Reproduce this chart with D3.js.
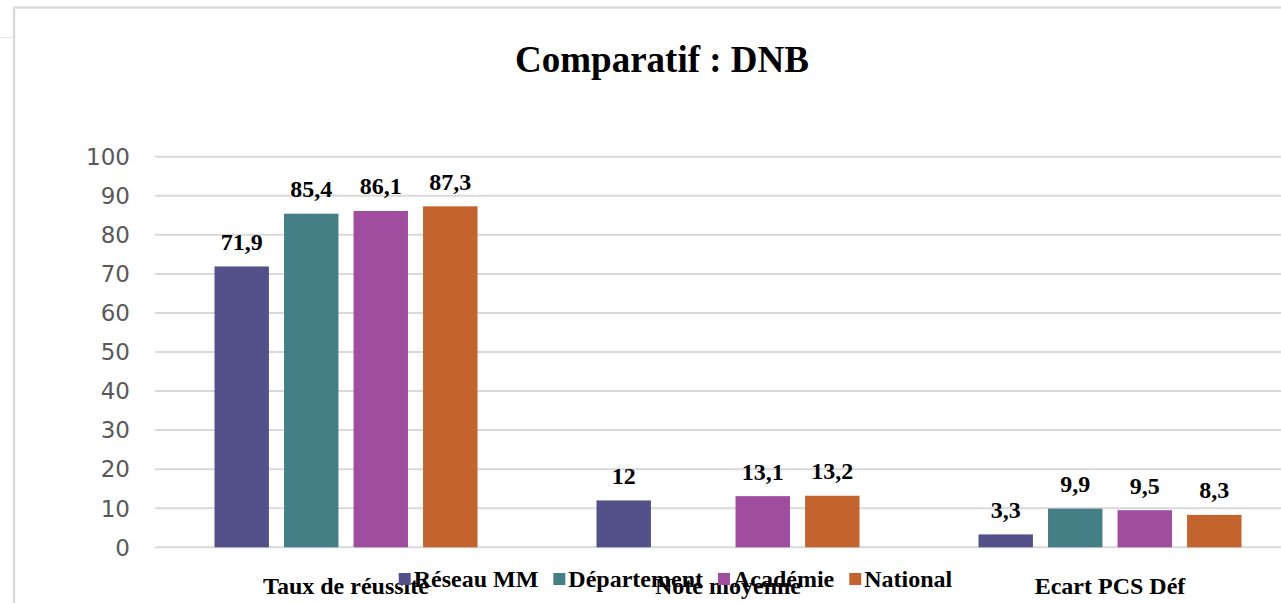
<!DOCTYPE html>
<html>
<head>
<meta charset="utf-8">
<script src="https://cdn.jsdelivr.net/npm/d3@7"></script>
<style>
  body { margin: 0; background: #fff; }
  svg { display: block; }
</style>
</head>
<body>
<div id="chart"></div>
<script>
// data
var categories = ["Taux de réussite", "Note moyenne", "Ecart PCS Déf"];
var seriesNames = ["Réseau MM", "Département", "Académie", "National"];
var reseau = [71.9, 12, 3.3];
var departement = [85.4, null, 9.9];
var academie = [86.1, 13.1, 9.5];
var national = [87.3, 13.2, 8.3];
var yTicks = [0, 10, 20, 30, 40, 50, 60, 70, 80, 90, 100];

var colors = ["#54518a", "#437f85", "#a04da0", "#c3632e"];
var allSeries = [reseau, departement, academie, national];

var width = 1281, height = 603;
var serif = "'Liberation Serif', 'Times New Roman', serif";

var svg = d3.select("#chart").append("svg")
    .attr("width", width)
    .attr("height", height);

svg.append("rect").attr("width", width).attr("height", height).attr("fill", "#fff");

// chart frame (cut off on the right)
svg.append("rect")
    .attr("x", 14).attr("y", 7.5)
    .attr("width", 1400).attr("height", 700)
    .attr("fill", "none")
    .attr("stroke", "#dcdcdc")
    .attr("stroke-width", 2.5);
svg.append("line")
    .attr("x1", 0).attr("x2", 13).attr("y1", 37.5).attr("y2", 37.5)
    .attr("stroke", "#e6e6e6");

// title
svg.append("text")
    .attr("x", 662).attr("y", 72)
    .attr("text-anchor", "middle")
    .attr("font-family", serif)
    .attr("font-weight", "bold")
    .attr("font-size", "37px")
    .text("Comparatif : DNB");

var y = d3.scaleLinear().domain([0, 100]).range([547.3, 156.7]);
var x0 = d3.scaleBand().domain(categories).range([155, 1301]).padding(0);
var x1 = d3.scaleBand().domain(seriesNames).range([59.5, 322.5]).paddingInner(0.217);

// gridlines
svg.append("g").selectAll("line")
    .data(yTicks)
    .enter().append("line")
    .attr("x1", 155).attr("x2", 1301)
    .attr("y1", d => y(d)).attr("y2", d => y(d))
    .attr("stroke", "#d9d9d9")
    .attr("stroke-width", 2);

// y tick labels
svg.append("g").selectAll("text")
    .data(yTicks)
    .enter().append("text")
    .attr("x", 130)
    .attr("y", d => y(d))
    .attr("dy", "0.36em")
    .attr("text-anchor", "end")
    .attr("font-family", "'DejaVu Sans', Verdana, sans-serif")
    .attr("font-size", "23px")
    .attr("fill", "#595959")
    .text(d => d);

// bars
var flat = [];
allSeries.forEach(function (vals, s) {
    vals.forEach(function (v, c) {
        if (v !== null) flat.push({ cat: categories[c], name: seriesNames[s], value: v, color: colors[s] });
    });
});

svg.append("g").selectAll("rect")
    .data(flat)
    .enter().append("rect")
    .attr("x", d => x0(d.cat) + x1(d.name))
    .attr("y", d => y(d.value))
    .attr("width", x1.bandwidth())
    .attr("height", d => y(0) - y(d.value))
    .attr("fill", d => d.color);

// value labels
svg.append("g").selectAll("text")
    .data(flat)
    .enter().append("text")
    .attr("x", d => x0(d.cat) + x1(d.name) + x1.bandwidth() / 2)
    .attr("y", d => y(d.value) - 16.5)
    .attr("text-anchor", "middle")
    .attr("font-family", serif)
    .attr("font-weight", "bold")
    .attr("font-size", "24px")
    .attr("fill", "#000")
    .text(d => String(d.value).replace(".", ","));

// category labels
svg.append("g").selectAll("text")
    .data(categories)
    .enter().append("text")
    .attr("x", d => x0(d) + x0.bandwidth() / 2)
    .attr("y", 593.5)
    .attr("text-anchor", "middle")
    .attr("font-family", serif)
    .attr("font-weight", "bold")
    .attr("font-size", "24px")
    .text(d => d);

// legend
var legend = svg.append("g");
var items = legend.selectAll("g")
    .data(seriesNames)
    .enter().append("g");
items.append("rect")
    .attr("width", 12).attr("height", 12)
    .attr("y", 573)
    .attr("fill", (d, i) => colors[i]);
items.append("text")
    .attr("x", 15)
    .attr("y", 587)
    .attr("font-family", serif)
    .attr("font-weight", "bold")
    .attr("font-size", "24px")
    .text(d => d);

var widths = [];
items.select("text").each(function () { widths.push(this.getComputedTextLength()); });
var total = d3.sum(widths) + seriesNames.length * 15 + (seriesNames.length - 1) * 15;
var cx = 675.5 - total / 2;
items.each(function (d, i) {
    d3.select(this).attr("transform", "translate(" + cx + ",0)");
    cx += 15 + widths[i] + 15;
});
</script>
</body>
</html>
